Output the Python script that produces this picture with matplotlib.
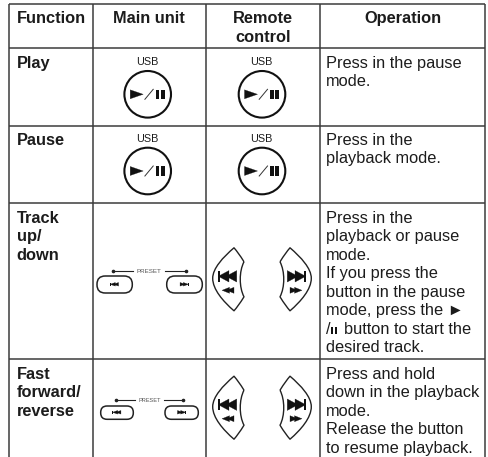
import matplotlib
matplotlib.use("Agg")
import matplotlib.pyplot as plt
from matplotlib.patches import Circle, FancyBboxPatch, PathPatch, Polygon, Rectangle
from matplotlib.path import Path

# ---- content ----
headers = ["Function", "Main unit", ["Remote", "control"], "Operation"]
functions = [["Play"], ["Pause"], ["Track", "up/", "down"], ["Fast", "forward/", "reverse"]]
operations = [
    ["Press in the pause", "mode."],
    ["Press in the", "playback mode."],
    ["Press in the", "playback or pause", "mode.", "If you press the",
     "button in the pause", "mode, press the \u25ba", "/   button to start the", "desired track."],
    ["Press and hold", "down in the playback", "mode.", "Release the button",
     "to resume playback."],
]
usb_label = "USB"
preset_label = "PRESET"

# ---- layout in pixels ----
W, H = 488, 457
col_x = [9.3, 92.7, 206, 319.7, 485.3]
row_y = [4, 47.7, 125.5, 202.5, 358.7, 457]
LINE = "#3c3c3c"
INK = "#1c1c1c"
LEAD = 18.5
SANS = ["Liberation Sans", "DejaVu Sans"]

fig = plt.figure(figsize=(W / 100, H / 100), dpi=100, facecolor="white")
ax = fig.add_axes([0, 0, 1, 1])
ax.set_xlim(0, W)
ax.set_ylim(H, 0)
ax.axis("off")


def txt(x, y, s, size=11.8, bold=False, ha="left", family=SANS, color=INK):
    ax.text(x, y, s, fontsize=size, fontweight="bold" if bold else "normal",
            ha=ha, va="baseline", family=family, color=color)


def tri(x0, x1, cy, h):
    ax.add_patch(Polygon([(x0, cy - h / 2), (x1, cy), (x0, cy + h / 2)], closed=True,
                         fc="#111111", ec="#111111", lw=0.2))


def play_pause_button(cx, top):
    txt(cx - 0.5, top, usb_label, size=7.8, ha="center")
    cy = top + 29.3
    ax.add_patch(Circle((cx, cy), 23.3, fc="white", ec="#111111", lw=1.5))
    tri(cx - 17.5, cx - 4.5, cy, 9)
    ax.plot([cx - 2.8, cx + 5.5], [cy + 5, cy - 5], color="#333333", lw=0.7)
    ax.add_patch(Rectangle((cx + 8.2, cy - 4.7), 3.3, 9.4, fc="#111111", ec="none"))
    ax.add_patch(Rectangle((cx + 13.2, cy - 4.7), 3.8, 9.4, fc="#111111", ec="none"))


def skip_icon(cx, cy, w, h, left, overlap=0.62):
    d = -1 if left else 1
    n = w * overlap
    x_start = cx - d * w / 2
    x_end = cx + d * w / 2
    tri(x_start, x_start + d * n, cy, h)
    tri(x_end - d * n, x_end, cy, h)
    ax.add_patch(Rectangle((min(x_end, x_end - d * w * 0.1), cy - h / 2), w * 0.1, h,
                           fc="#111111", ec="none"))


def preset_group(y_line, x_parts, btn_left, btn_right, y0, y1, icon_x, icon_y, label_size):
    a, b, c, e = x_parts
    ax.plot([a, b], [y_line, y_line], color="#222222", lw=0.8)
    ax.plot([c, e], [y_line, y_line], color="#222222", lw=0.8)
    ax.plot([a, e], [y_line, y_line], ls="none", marker="o", ms=1.6, color="#222222")
    txt((b + c) / 2, y_line + 2, preset_label, size=label_size, ha="center", color="#555555")
    r = (y1 - y0) / 2 - 0.3
    for (x0, x1), ix, lf in zip((btn_left, btn_right), icon_x, (True, False)):
        ax.add_patch(FancyBboxPatch((x0 + r, y0 + r), x1 - x0 - 2 * r, y1 - y0 - 2 * r,
                                    boxstyle=f"round,pad={r},rounding_size={r}",
                                    fc="white", ec="#222222", lw=1.1))
        skip_icon(ix, icon_y, 8.5, 3.6, lf)


def remote_button(cy, inner, s):
    # s = -1: bulges to the left, +1: bulges to the right
    pts = [
        (inner - s * 3, cy - 17.5),
        (inner + s * 1, cy - 24), (inner + s * 4, cy - 28), (inner + s * 7, cy - 31.5),
        (inner + s * 18, cy - 22), (inner + s * 28.3, cy - 11), (inner + s * 28.3, cy - 1),
        (inner + s * 28.3, cy + 10), (inner + s * 18, cy + 22), (inner + s * 7, cy + 31.5),
        (inner + s * 4, cy + 28), (inner + s * 1, cy + 24), (inner - s * 3, cy + 17.5),
        (inner + s * 2, cy + 8), (inner + s * 2, cy - 8), (inner - s * 3, cy - 17.5),
    ]
    codes = [Path.MOVETO] + [Path.CURVE4] * 15
    ax.add_patch(PathPatch(Path(pts, codes), fc="white", ec="#222222", lw=1.0, joinstyle="round"))
    skip_icon(inner + s * 13.5, cy - 3, 18.5, 11.5, s < 0, overlap=0.58)
    n = 7.5
    small_x = inner + s * 13
    tri(small_x - s * 6, small_x - s * 6 + s * n, cy + 11, 6)
    tri(small_x + s * 6 - s * n, small_x + s * 6, cy + 11, 6)


# ---- grid ----
for x in col_x:
    ax.plot([x, x], [row_y[0], row_y[-1]], color=LINE, lw=1.1, solid_capstyle="butt")
for y in row_y[:-1]:
    ax.plot([col_x[0], col_x[-1]], [y, y], color=LINE, lw=1.1, solid_capstyle="butt")

# ---- header ----
txt(17, 23.3, headers[0], bold=True)
txt(149, 23.3, headers[1], bold=True, ha="center")
txt(263, 23, headers[2][0], bold=True, ha="center")
txt(263, 41.5, headers[2][1], bold=True, ha="center")
txt(402.5, 23.3, headers[3], bold=True, ha="center")

# ---- text columns ----
first_baseline = [68, 145, 222.6, 378.7]
for base, fn, op in zip(first_baseline, functions, operations):
    for i, s in enumerate(fn):
        txt(16.5, base + i * LEAD, s, bold=True)
    for i, s in enumerate(op):
        txt(326, base + i * LEAD, s)

# inline pause glyph in the "/ button" line
gy = 222.6 + 6 * LEAD
ax.add_patch(Rectangle((330.5, gy - 6.3), 2.6, 6.8, fc="#111111", ec="none"))
ax.add_patch(Rectangle((334.8, gy - 6.3), 2.6, 6.8, fc="#111111", ec="none"))

# ---- icons ----
for top in (65, 141.7):
    play_pause_button(147.7, top)
    play_pause_button(262, top)

preset_group(270.7, (113, 133, 165, 185.7), (97, 132.3), (166.7, 202.3), 276, 293,
             (114.3, 184.3), 284.3, 4.5)
preset_group(400, (116, 135, 164, 183.3), (100.7, 133.3), (165, 198.3), 406, 419.3,
             (116.7, 181.7), 412.3, 4.1)

for cy in (279.3, 407.7):
    remote_button(cy, 241, -1)
    remote_button(cy, 283, 1)

fig.savefig("out.png", dpi=100, facecolor="white")
